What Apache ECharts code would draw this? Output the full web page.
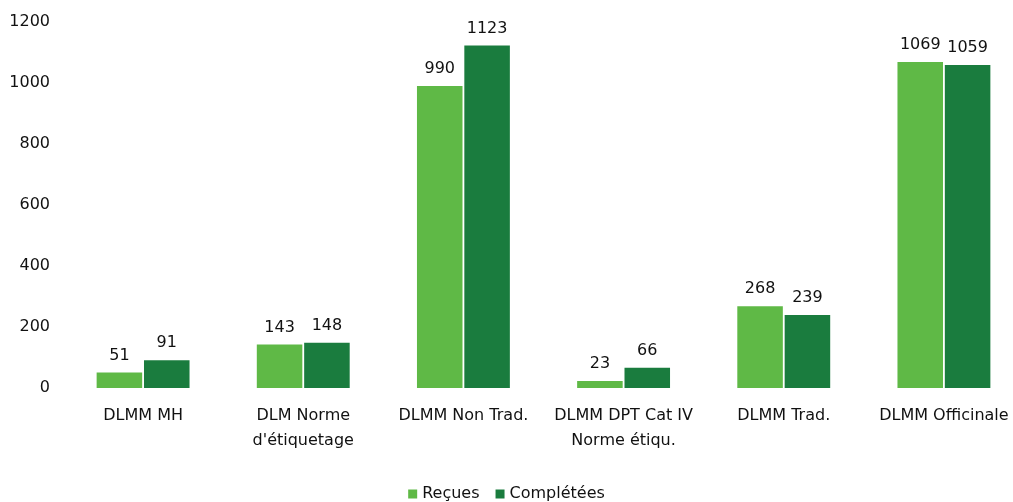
<!DOCTYPE html>
<html>
<head>
<meta charset="utf-8">
<script src="https://cdn.jsdelivr.net/npm/echarts@6/dist/echarts.min.js"></script>
<style>
  html, body { margin: 0; padding: 0; background: #fff; }
  #chart { width: 1013px; height: 502px; }
</style>
</head>
<body>
<div id="chart"></div>
<script>
const categories = ['DLMM MH', "DLM Norme\nd'étiquetage", 'DLMM Non Trad.', 'DLMM DPT Cat IV\nNorme étiqu.', 'DLMM Trad.', 'DLMM Officinale'];
const recues = [51, 143, 990, 23, 268, 1069];
const completees = [91, 148, 1123, 66, 239, 1059];
const yTicks = [0, 200, 400, 600, 800, 1000, 1200];

const font = '"DejaVu Sans", Verdana, sans-serif';
const chart = echarts.init(document.getElementById('chart'));

chart.setOption({
  animation: false,
  textStyle: { fontFamily: font },
  grid: { left: 63, right: -11, top: 22, bottom: 114, outerBoundsMode: 'none' },
  legend: {
    top: 481,
    left: 'center',
    itemWidth: 9,
    itemHeight: 9,
    itemGap: 16,
    icon: 'rect',
    textStyle: { fontFamily: font, fontSize: 16, color: '#111' },
    data: ['Reçues', 'Complétées'],
  },
  xAxis: {
    type: 'category',
    data: categories,
    axisLine: { show: false },
    axisTick: { show: false },
    axisLabel: {
      interval: 0,
      margin: 15,
      fontFamily: font,
      fontSize: 16,
      color: '#111',
      lineHeight: 25,
    },
  },
  yAxis: {
    type: 'value',
    min: yTicks[0],
    max: yTicks[yTicks.length - 1],
    interval: 200,
    splitLine: { show: false },
    axisLine: { show: false },
    axisTick: { show: false },
    axisLabel: { margin: 13, fontFamily: font, fontSize: 16, color: '#111', formatter: v => String(v) },
  },
  series: [
    {
      name: 'Reçues',
      type: 'bar',
      data: recues,
      barGap: '4%',
      barCategoryGap: '42%',
      itemStyle: { color: '#5fb946' },
      label: { show: true, position: 'top', distance: 9, fontFamily: font, fontSize: 16, color: '#111' },
    },
    {
      name: 'Complétées',
      type: 'bar',
      data: completees,
      itemStyle: { color: '#1a7c3e' },
      label: { show: true, position: 'top', distance: 9, fontFamily: font, fontSize: 16, color: '#111' },
    },
  ],
});
</script>
</body>
</html>
